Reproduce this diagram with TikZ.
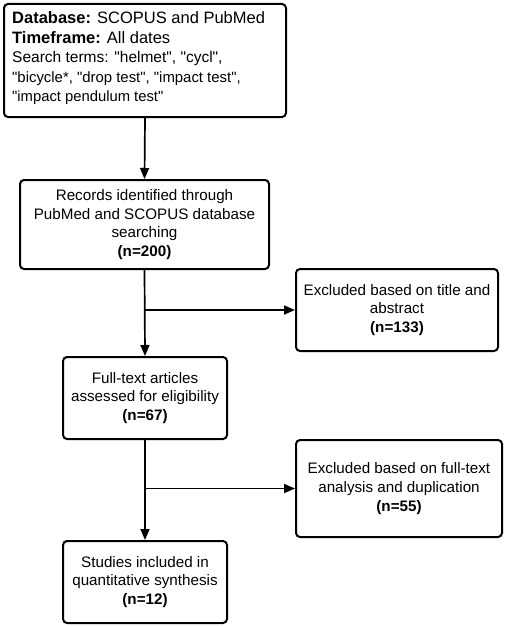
\documentclass[tikz,border=0pt]{standalone}
\usepackage{fontspec}
\setmainfont{Liberation Sans}[Ligatures=TeXOff]
\usetikzlibrary{arrows.meta}
\tikzset{
  box/.style={draw=black, line width=2pt, rounded corners=4pt, fill=white, inner sep=0pt, align=center},
  conn/.style={draw=black, line width=1.7pt},
  arr/.style={conn, -{Triangle[length=11pt,width=9pt]}},
  txt/.style={font=\fontsize{15.2}{18.7}\selectfont}
}
\begin{document}
\begin{tikzpicture}[x=1pt,y=-1pt]
\useasboundingbox (0,0) rectangle (505,626);
% boxes
\node[box, minimum width=282pt, minimum height=113pt] (src) at (145,60.5) {};
\node[anchor=west, align=left, inner sep=0pt, font=\fontsize{16.5}{19.5}\selectfont] (srctxt) at (12,58.5)
 {\textbf{Database:} SCOPUS and PubMed\\
  \textbf{Timeframe:} All dates\\
  {\fontsize{15.5}{19.5}\selectfont Search terms: "helmet", "cycl",}\\
  {\fontsize{14.9}{19.5}\selectfont "bicycle*, "drop test", "impact test",}\\
  {\fontsize{14.8}{19.5}\selectfont "impact pendulum test"}};
\node[box, txt, minimum width=249pt, minimum height=89pt] (rec) at (144.5,224.5)
 {Records identified through\\PubMed and SCOPUS database\\searching\\\textbf{(n=200)}};
\node[box, txt, minimum width=202pt, minimum height=82pt] (ex1) at (397,310)
 {Excluded based on title and\\abstract\\\textbf{(n=133)}};
\node[box, txt, minimum width=164pt, minimum height=82pt] (full) at (145,398)
 {Full-text articles\\assessed for eligibility\\\textbf{(n=67)}};
\node[box, txt, minimum width=206pt, minimum height=97pt] (ex2) at (399,488.5)
 {Excluded based on full-text\\analysis and duplication\\\textbf{(n=55)}};
\node[box, txt, minimum width=164pt, minimum height=82pt] (inc) at (145,582)
 {Studies included in\\quantitative synthesis\\\textbf{(n=12)}};
% connectors
\draw[arr] (src.south) -- (rec.north);
\draw[arr] (rec.south) -- (full.north);
\draw[arr] (full.south) -- (inc.north);
\draw[arr] (rec.south |- ex1.west) -- (ex1.west);
\draw[arr] (full.south |- ex2.west) -- (ex2.west);
\end{tikzpicture}
\end{document}
